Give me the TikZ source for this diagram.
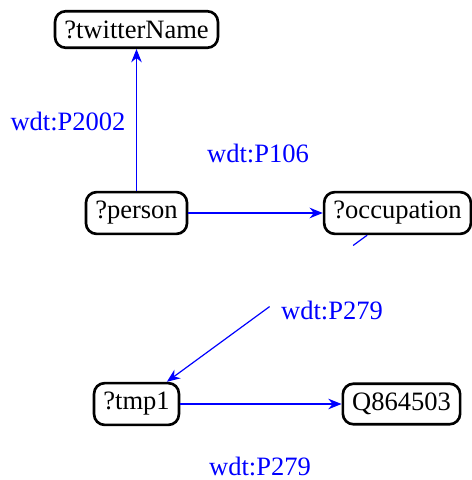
\documentclass[tikz,border=0pt]{standalone}
\usepackage{fontspec}
\setmainfont{Liberation Serif}
\usetikzlibrary{arrows.meta,calc}

\begin{document}
\begin{tikzpicture}[x=0.377pt,y=-0.377pt,
    var/.style={draw,line width=1pt,rounded corners=4pt,inner xsep=3.5pt,inner ysep=3.5pt,minimum height=13pt},
    rel/.style={blue,line width=0.45pt},
    lbl/.style={text=blue}]
\useasboundingbox (0,0) rectangle (471,480);
\node[var] (twitterName) at (136.5, 29.5) {?twitterName};
\node[var] (person) at (136.5, 213) {?person};
\node[var] (occupation) at (397.5, 213) {?occupation};
\node[var] (tmp1) at (136.5, 404) {?tmp1};
\node[var] (Q864503) at (401.5, 404) {Q864503};
\node[lbl] (p2002) at (68, 121) {wdt:P2002};
\node[lbl] (p106) at (258, 153) {wdt:P106};
\node[lbl] (p279a) at (332, 310) {wdt:P279};
\node[lbl] (p279b) at (260, 466) {wdt:P279};
\draw[rel,-{Stealth[length=5pt,width=4pt]}] (person) -- (twitterName);
\draw[rel,-{Stealth[length=5pt,width=4pt]}] (person) -- (occupation);
\draw[rel] (occupation) -- ($(occupation)!0.17!(tmp1)$);
\draw[rel,-{Stealth[length=5pt,width=4pt]}] ($(occupation)!0.49!(tmp1)$) -- (tmp1);
\draw[rel,-{Stealth[length=5pt,width=4pt]}] (tmp1) -- (Q864503);
\end{tikzpicture}
\end{document}
